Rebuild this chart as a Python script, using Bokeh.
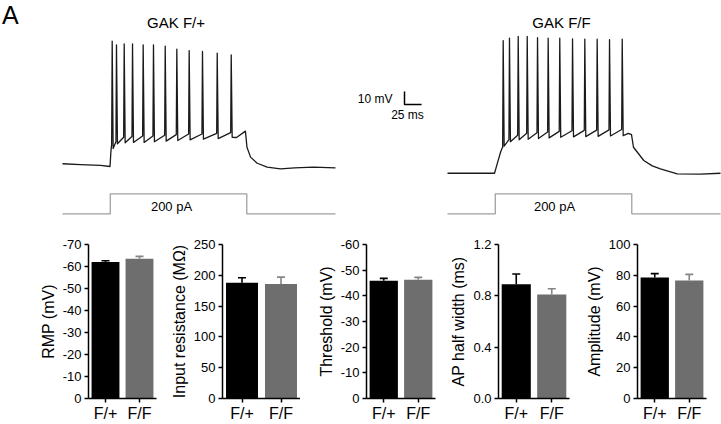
from bokeh.plotting import figure
from bokeh.layouts import column, row
from bokeh.models import Range1d, FixedTicker, ColumnDataSource
from bokeh.core.properties import value
from bokeh.embed import file_html
from bokeh.resources import INLINE

FONT = "Liberation Sans"

# ---------------- data: example traces (ms, mV) ----------------
# GAK F/+ trace
L_PRE_T = [0, 26.4, 55.7, 69.6, 71.0]
L_PRE_V = [-59.9, -60.5, -61.2, -62.0, -50.0]
L_SPK_T = [72.8, 79.1, 90.4, 102.6, 118.2, 133.3, 150.5, 167.5, 185.6, 205.1, 226.7, 247.2]
L_SPK_PK = [34.4, 31.6, 32.4, 32.4, 31.6, 31.6, 30.5, 28.2, 27.2, 26.5, 25.2, 23.9]
L_SPK_THR = [-45.0, -43.0, -39.5, -39.0, -38.5, -38.5, -38.0, -37.5, -37.0, -37.0, -36.5, -36.0]
L_SPK_AHP = [-48.2, -44.5, -43.8, -43.5, -43.5, -43.0, -42.5, -42.0, -41.5, -41.0, -40.5, -39.5]
L_POST_T = [255.0, 268.0, 270.3, 275.5, 285.3, 299.9, 319.4, 340.0, 367.8, 400.0]
L_POST_V = [-39.7, -34.8, -47.2, -54.8, -59.5, -62.5, -63.8, -63.0, -62.5, -63.0]

# GAK F/F trace
R_PRE_T = [0, 68.9, 72.8, 77.7, 80.0]
R_PRE_V = [-67.2, -67.2, -60.0, -51.0, -47.9]
R_SPK_T = [81.6, 90.8, 103.6, 116.8, 131.9, 147.5, 164.5, 183.2, 201.2, 219.3, 237.4, 256.0]
R_SPK_PK = [34.9, 36.7, 38.0, 38.0, 37.2, 36.7, 36.7, 36.2, 35.9, 35.9, 35.5, 35.9]
R_SPK_THR = [-47.4, -41.4, -38.0, -36.5, -36.0, -35.5, -35.0, -34.5, -34.2, -34.0, -33.8, -33.5]
R_SPK_AHP = [-46.4, -43.0, -41.5, -41.0, -40.5, -40.0, -39.5, -39.2, -39.0, -38.8, -38.5, -38.3]
R_POST_T = [265.0, 269.6, 272.5, 287.6, 300.0, 312.0, 336.6, 370.7, 400.0]
R_POST_V = [-36.5, -37.5, -47.2, -57.4, -61.5, -63.8, -67.6, -67.8, -67.2]

# current step (pA)
STIM_T = [0, 70, 70, 270, 270, 400]
STIM_I = [0, 0, 200, 200, 0, 0]

SCALE_MV = 10
SCALE_MS = 25

# ---------------- data: summary bars ----------------
GROUPS = ["F/+", "F/F"]
RMP = [-62.0, -63.5]
RMP_SEM = [0.6, 1.1]
RIN = [188.0, 186.0]
RIN_SEM = [8.0, 11.0]
THR = [-45.9, -46.3]
THR_SEM = [0.9, 0.9]
HW = [0.89, 0.81]
HW_SEM = [0.08, 0.045]
AMP = [78.5, 76.6]
AMP_SEM = [2.6, 4.0]

RMP_TICKS = [0, -10, -20, -30, -40, -50, -60, -70]
RIN_TICKS = [0, 50, 100, 150, 200, 250]
THR_TICKS = [0, -10, -20, -30, -40, -50, -60]
HW_TICKS = [0, 0.4, 0.8, 1.2]
AMP_TICKS = [0, 20, 40, 60, 80, 100]

BAR_COLORS = ["#000000", "#6e6e6e"]
ERR_COLORS = ["#000000", "#858585"]

# ---------------- top panel (traces) ----------------
PX_MS = 0.6825
PX_MV = 1.3
X0 = 62
V0 = -62.0
Y0 = 166
RIGHT_OFF = (447 - 62) / PX_MS


def X(px):
    return (px - X0) / PX_MS


def Y(py):
    return V0 + (Y0 - py) / PX_MV


def build_trace(pre_t, pre_v, st, pk, thr, ahp, post_t, post_v):
    t = list(pre_t)
    v = list(pre_v)
    for i in range(len(st)):
        t += [st[i] - 0.8, st[i], st[i] + 1.4]
        v += [thr[i], pk[i], ahp[i]]
    t += list(post_t)
    v += list(post_v)
    return t, v


top = figure(width=721, height=220, output_backend="svg", toolbar_location=None,
             x_range=Range1d(X(0), X(721)), y_range=Range1d(Y(220), Y(0)),
             x_axis_location=None, y_axis_location=None, min_border=0,
             outline_line_color=None, background_fill_color=None, border_fill_color=None)
top.grid.visible = False
top.extra_y_ranges = {"pA": Range1d(-67, 2133)}

lt, lv = build_trace(L_PRE_T, L_PRE_V, L_SPK_T, L_SPK_PK, L_SPK_THR, L_SPK_AHP, L_POST_T, L_POST_V)
rt, rv = build_trace(R_PRE_T, R_PRE_V, R_SPK_T, R_SPK_PK, R_SPK_THR, R_SPK_AHP, R_POST_T, R_POST_V)
top.line(lt, lv, line_color="#1a1a1a", line_width=1.3, line_join="round")
top.line([t + RIGHT_OFF for t in rt], rv, line_color="#1a1a1a", line_width=1.3, line_join="round")

top.line(STIM_T, STIM_I, y_range_name="pA", line_color="#a0a0a0", line_width=1.3)
top.line([t + RIGHT_OFF for t in STIM_T], STIM_I, y_range_name="pA", line_color="#a0a0a0", line_width=1.3)

# scale bar
sb_x = X(404)
sb_y = Y(104)
top.line([sb_x, sb_x, sb_x + SCALE_MS], [sb_y + SCALE_MV, sb_y, sb_y], line_color="black", line_width=1.5)


def label(p, x, y, txt, size, align="center"):
    p.text(x=[x], y=[y], text=[txt], text_font=value(FONT), text_font_size=size,
           text_align=align, text_baseline="middle", text_color="black")


label(top, X(1.5), Y(14), "A", "25px", "left")
label(top, X(175.5), Y(21.5), "GAK F/+", "15px")
label(top, X(561), Y(21.5), "GAK F/F", "15px")
label(top, X(392), Y(98), f"{SCALE_MV} mV", "12px", "right")
label(top, X(407), Y(114), f"{SCALE_MS} ms", "12px")
label(top, X(171), Y(206), "200 pA", "13px")
label(top, X(554), Y(206), "200 pA", "13px")


# ---------------- bottom panels (bars) ----------------
def bar_chart(ylabel, vals, sems, lo, hi, ticks, w, bl, br, fmt="{:g}"):
    p = figure(width=w, height=204, output_backend="svg", toolbar_location=None,
               x_range=Range1d(-0.5, 1.5), y_range=Range1d(lo, hi),
               min_border_left=bl, min_border_right=br, min_border_top=24, min_border_bottom=25,
               outline_line_color=None, background_fill_color=None, border_fill_color=None)
    p.grid.visible = False
    tips = [v - e if v < 0 else v + e for v, e in zip(vals, sems)]
    src = ColumnDataSource(dict(x=[0, 1], top=vals, tip=tips, c=BAR_COLORS, ec=ERR_COLORS))
    p.vbar(x="x", top="top", bottom=0, width=0.82, fill_color="c", line_color=None, source=src)
    p.segment(x0="x", y0="top", x1="x", y1="tip", line_color="ec", line_width=1.6, source=src)
    p.scatter(x="x", y="tip", marker="dash", size=8, line_color="ec", line_width=1.6, source=src)

    p.xaxis.ticker = FixedTicker(ticks=[0, 1])
    p.xaxis.major_label_overrides = {i: g for i, g in enumerate(GROUPS)}
    p.yaxis.ticker = FixedTicker(ticks=ticks)
    p.yaxis.major_label_overrides = {t: fmt.format(t) for t in ticks}
    for ax in (p.xaxis, p.yaxis):
        ax.axis_line_color = "black"
        ax.axis_line_width = 1.5
        ax.major_tick_line_color = "black"
        ax.major_tick_line_width = 1.5
        ax.major_tick_in = 0
        ax.major_tick_out = 4
        ax.minor_tick_line_color = None
        ax.major_label_text_font = FONT
        ax.major_label_text_color = "black"
    p.xaxis.major_label_text_font_size = "16px"
    p.xaxis.major_label_standoff = 2
    p.yaxis.major_label_text_font_size = "13px"
    p.yaxis.major_label_standoff = 3
    p.yaxis.axis_label = ylabel
    p.yaxis.axis_label_text_font = FONT
    p.yaxis.axis_label_text_font_size = "16px"
    p.yaxis.axis_label_text_font_style = "normal"
    p.yaxis.axis_label_text_color = "black"
    p.yaxis.axis_label_standoff = 3
    return p


f1 = bar_chart("RMP (mV)", RMP, RMP_SEM, 0, -70, RMP_TICKS, 160, 88, 4)
f2 = bar_chart("Input resistance (MΩ)", RIN, RIN_SEM, 0, 250, RIN_TICKS, 140, 62, 0)
f3 = bar_chart("Threshold (mV)", THR, THR_SEM, 0, -60, THR_TICKS, 137, 66, 2)
f4 = bar_chart("AP half width (ms)", HW, HW_SEM, 0, 1.2, HW_TICKS, 134, 61, 2, fmt="{:.1f}")
f5 = bar_chart("Amplitude (mV)", AMP, AMP_SEM, 0, 100, AMP_TICKS, 150, 66, 15)

layout = column(top, row(f1, f2, f3, f4, f5, spacing=0), spacing=0)

html = file_html(layout, INLINE, title="GAK electrophysiology")
html = html.replace("<body>", '<body style="margin:0;overflow:hidden;">', 1)
open("out.html", "w").write(html)
